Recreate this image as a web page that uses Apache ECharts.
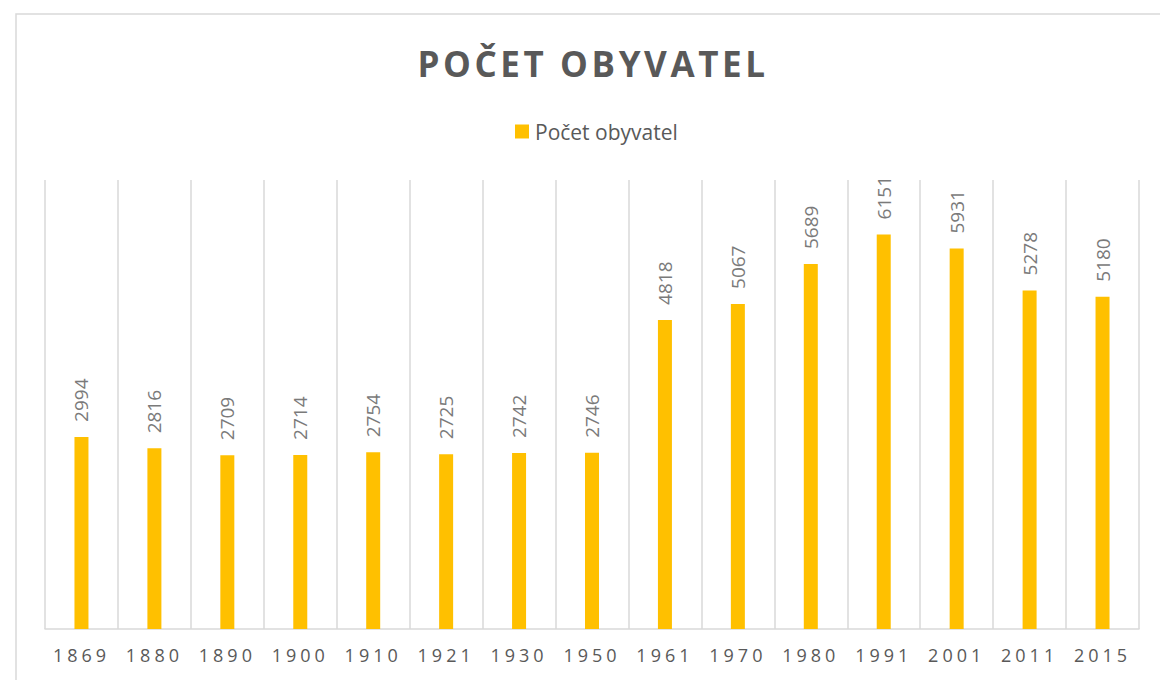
<!DOCTYPE html>
<html>
<head>
<meta charset="utf-8">
<script src="https://cdn.jsdelivr.net/npm/echarts@6/dist/echarts.min.js"></script>
<style>
    html, body { margin: 0; padding: 0; background: #fff; }
    #main { width: 1160px; height: 680px; }
    /* letter spacing like the original (title + year labels) */
    #main text[style*="35px"] { letter-spacing: 3.6px; }
    #main text[style*="18px"] { letter-spacing: 4px; }
</style>
</head>
<body>
<div id="main"></div>

<script>
    // data
    var years = ['1869', '1880', '1890', '1900', '1910', '1921', '1930', '1950',
                 '1961', '1970', '1980', '1991', '2001', '2011', '2015'];
    var population = [2994, 2816, 2709, 2714, 2754, 2725, 2742, 2746,
                      4818, 5067, 5689, 6151, 5931, 5278, 5180];
    var seriesName = 'Počet obyvatel';
    var chartTitle = 'POČET OBYVATEL';

    var myChart = echarts.init(document.getElementById('main'), null, {renderer: 'svg'});
    var option = {
        backgroundColor: '#fff',
        animation: false,
        graphic: [
            {
                type: 'rect',
                shape: { x: 16, y: 14, width: 1160, height: 700 },
                style: { fill: 'none', stroke: '#d9d9d9', lineWidth: 1.5 },
                silent: true
            }
        ],
        title: {
            text: chartTitle,
            left: 588,
            top: 41,
            textAlign: 'center',
            textStyle: {
                fontFamily: 'Open Sans',
                fontWeight: 'bold',
                fontSize: 35,
                color: '#595959'
            }
        },
        legend: {
            data: [seriesName],
            left: 510,
            top: 116,
            itemWidth: 14,
            itemHeight: 14,
            itemGap: 6,
            icon: 'rect',
            textStyle: {
                fontFamily: 'Open Sans',
                fontSize: 21,
                color: '#595959',
                padding: [0, 0, 0, 1]
            }
        },
        grid: {
            left: 45,
            right: 21,
            top: 180,
            bottom: 51
        },
        xAxis: {
            type: 'category',
            data: years,
            axisTick: { show: false },
            axisLine: { lineStyle: { color: '#d9d9d9', width: 1.5 } },
            splitLine: {
                show: true,
                showMinLine: true,
                showMaxLine: true,
                lineStyle: { color: '#d9d9d9', width: 1.5 }
            },
            axisLabel: {
                margin: 17,
                fontFamily: 'Open Sans',
                fontSize: 18,
                color: '#595959'
            }
        },
        yAxis: {
            type: 'value',
            min: 0,
            max: 7000,
            show: false,
            splitLine: { show: false }
        },
        series: [
            {
                name: seriesName,
                type: 'bar',
                data: population,
                barWidth: 14,
                itemStyle: { color: '#FFC000' },
                label: {
                    show: true,
                    position: 'top',
                    rotate: 90,
                    align: 'left',
                    verticalAlign: 'middle',
                    distance: 15,
                    fontFamily: 'Open Sans',
                    fontSize: 19,
                    color: '#7a7a7a'
                }
            }
        ]
    };
    myChart.setOption(option);
</script>
</body>
</html>
